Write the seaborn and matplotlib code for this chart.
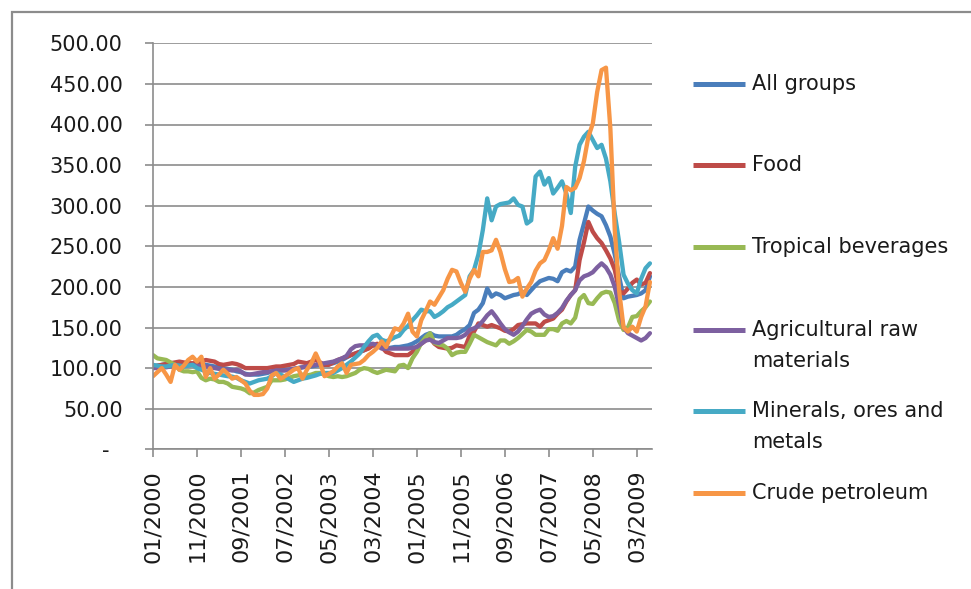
import numpy as np
import pandas as pd
import matplotlib
matplotlib.use("Agg")
import matplotlib.pyplot as plt
import seaborn as sns
from matplotlib.lines import Line2D
from matplotlib.patches import Rectangle

# ---------------- data (monthly index, 01/2000 .. 06/2009) ----------------
series_names = ["All groups", "Food", "Tropical beverages",
                "Agricultural raw materials", "Minerals, ores and metals",
                "Crude petroleum"]
legend_lines = [["All groups"], ["Food"], ["Tropical beverages"],
                ["Agricultural raw", "materials"], ["Minerals, ores and", "metals"],
                ["Crude petroleum"]]
colors = ["#4A7EBB", "#BE4B48", "#98B954", "#7D60A0", "#46AAC5", "#F79646"]

tick_positions = [0, 10, 20, 30, 40, 50, 60, 70, 80, 90, 100, 110]
tick_labels = ["01/2000", "11/2000", "09/2001", "07/2002", "05/2003", "03/2004",
               "01/2005", "11/2005", "09/2006", "07/2007", "05/2008", "03/2009"]

y_ticks = [0, 50, 100, 150, 200, 250, 300, 350, 400, 450, 500]
y_tick_labels = ["-  ", "50.00", "100.00", "150.00", "200.00", "250.00",
                 "300.00", "350.00", "400.00", "450.00", "500.00"]

all_groups = [102, 103, 104, 105, 106, 106, 106, 106, 106, 105,
              105, 104, 104, 103, 102, 101, 100, 99, 98, 96,
              95, 93, 92, 92, 92, 93, 94, 96, 97, 97,
              98, 98, 99, 100, 101, 102, 102, 103, 104, 104,
              105, 106, 108, 110, 113, 116, 118, 120, 122, 125,
              128, 127, 125, 124, 125, 126, 126, 127, 128, 130,
              133, 137, 141, 143, 140, 139, 139, 139, 139, 141,
              145, 148, 153, 168, 172, 180, 198, 188, 192, 190,
              186, 188, 190, 191, 194, 190, 196, 202, 207, 209,
              211, 210, 207, 218, 221, 219, 225, 258, 278, 299,
              294, 290, 287, 276, 262, 240, 213, 186, 188, 189,
              190, 192, 196, 213]

food = [102, 103, 104, 105, 106, 107, 108, 107, 106, 106,
        106, 108, 110, 109, 108, 105, 104, 105, 106, 105,
        103, 100, 100, 100, 100, 100, 100, 101, 102, 102,
        103, 104, 105, 108, 107, 106, 108, 110, 107, 104,
        104, 107, 110, 112, 114, 116, 118, 120, 122, 124,
        128, 130, 126, 120, 118, 116, 116, 116, 116, 120,
        126, 130, 134, 137, 130, 126, 125, 124, 125, 128,
        127, 126, 140, 145, 155, 153, 151, 153, 151, 149,
        146, 145, 148, 153, 154, 155, 155, 155, 151, 157,
        159, 161, 167, 172, 182, 190, 196, 233, 255, 280,
        268, 260, 254, 245, 235, 221, 195, 192, 198, 205,
        209, 203, 205, 217]

tropical = [116, 112, 111, 110, 107, 104, 98, 96, 96, 95,
            96, 88, 85, 87, 86, 83, 83, 81, 77, 76,
            75, 73, 69, 70, 73, 75, 77, 85, 85, 85,
            86, 88, 90, 91, 92, 91, 92, 94, 94, 92,
            90, 89, 90, 89, 90, 92, 94, 98, 100, 99,
            96, 94, 96, 98, 97, 96, 103, 104, 100, 112,
            120, 131, 138, 143, 131, 129, 128, 124, 116, 119,
            120, 120, 130, 141, 138, 135, 132, 130, 128, 134,
            134, 130, 133, 137, 142, 147, 145, 141, 141, 141,
            148, 148, 146, 155, 158, 155, 162, 185, 190, 180,
            179, 186, 192, 194, 193, 180, 158, 147, 150, 163,
            164, 170, 175, 182]

agricultural = [100, 100, 101, 101, 102, 102, 103, 103, 104, 104,
                103, 102, 102, 101, 100, 99, 98, 98, 97, 98,
                96, 92, 92, 93, 94, 95, 95, 96, 97, 97,
                97, 98, 99, 100, 101, 102, 103, 104, 105, 106,
                107, 108, 110, 112, 115, 123, 127, 128, 128, 129,
                130, 128, 124, 124, 124, 124, 124, 124, 124, 125,
                126, 130, 134, 135, 132, 131, 134, 137, 137, 137,
                138, 141, 147, 149, 152, 158, 165, 170, 163, 155,
                148, 144, 141, 145, 152, 160, 167, 170, 172, 166,
                163, 164, 168, 174, 183, 190, 196, 208, 213, 215,
                218, 224, 229, 224, 215, 200, 176, 150, 143, 140,
                137, 134, 137, 143]

minerals = [104, 103, 102, 102, 103, 104, 103, 102, 103, 104,
            100, 98, 96, 94, 93, 92, 91, 90, 89.5, 88,
            85, 83, 81, 83, 85, 86, 87, 90, 94, 92,
            89.5, 86, 83, 85, 87, 88, 89.5, 91, 93, 94,
            94, 94, 97, 100, 104, 108, 113, 118, 126, 133,
            139, 141, 135, 133, 135, 138, 140, 147, 152, 159,
            165, 172, 170, 170, 163, 166, 170, 175, 178, 182,
            186, 190, 213, 221, 240, 270, 309, 282, 299, 302,
            303, 304, 309, 301, 299, 278, 282, 336, 342, 326,
            334, 315, 322, 330, 315, 291, 348, 375, 385, 391,
            381, 371, 375, 358, 330, 290, 255, 215, 204, 196,
            192, 210, 223, 229]

crude = [90, 95, 100, 92, 83, 104, 98, 103, 110, 114,
         108, 114, 89, 100, 87, 92, 98, 93, 87, 89,
         85, 81, 72, 67, 67, 68, 75, 91, 94, 87,
         90, 94, 98, 100, 87, 98, 106, 118, 106, 90,
         93, 96, 102, 106, 94, 104, 105, 106, 110, 116,
         120, 125, 133, 126, 138, 149, 147, 155, 167, 145,
         139, 159, 170, 182, 178, 187, 196, 210, 221, 219,
         205, 194, 210, 221, 213, 243, 243, 245, 258, 243,
         222, 206, 207, 211, 188, 198, 206, 220, 229, 233,
         245, 260, 247, 275, 323, 319, 322, 334, 355, 385,
         401, 440, 467, 470, 395, 270, 195, 150, 145, 151,
         145, 163, 176, 206]

series_values = [all_groups, food, tropical, agricultural, minerals, crude]

frames = []
for name, vals in zip(series_names, series_values):
    frames.append(pd.DataFrame({"month": np.arange(len(vals)),
                                "value": vals, "series": name}))
df = pd.concat(frames, ignore_index=True)

# ---------------- figure ----------------
sns.set_style("white")
plt.rcParams["font.family"] = ["DejaVu Sans"]

W, H = 971, 589
fig = plt.figure(figsize=(W / 100, H / 100), dpi=100)
fig.patch.set_facecolor("white")

# outer chart frame
fig.add_artist(Rectangle((12 / W, -0.05), 1.2, 1 - 12 / H + 0.05,
                         transform=fig.transFigure, fill=False,
                         edgecolor="#8C8C8C", linewidth=1.6))

ax = fig.add_axes([153 / W, 1 - 449.3 / H, (651.7 - 153) / W, (449.3 - 43.3) / H])

sns.lineplot(data=df, x="month", y="value", hue="series",
             hue_order=series_names, palette=colors, linewidth=3.1,
             ax=ax, legend=False, sort=False)

ax.set_xlim(0, 113.4)
ax.set_ylim(0, 500)
ax.set_xlabel("")
ax.set_ylabel("")

ax.set_yticks(y_ticks)
ax.set_yticklabels(y_tick_labels)
ax.set_xticks(tick_positions)
ax.set_xticklabels(tick_labels, rotation=90)

grid_col = "#8C8C8C"
ax.yaxis.grid(True, color=grid_col, linewidth=1.2)
ax.xaxis.grid(False)
ax.set_axisbelow(True)
for s in ["top", "right"]:
    ax.spines[s].set_visible(False)
for s in ["left", "bottom"]:
    ax.spines[s].set_color(grid_col)
    ax.spines[s].set_linewidth(1.2)

ax.tick_params(axis="y", which="major", length=5.8, width=1.2, color=grid_col,
               labelsize=15, pad=16, labelcolor="#1A1A1A", left=True)
ax.tick_params(axis="x", which="major", length=5.8, width=1.2, color=grid_col,
               labelsize=16, pad=9, labelcolor="#1A1A1A", bottom=True)
for lab in ax.get_xticklabels():
    lab.set_va("top")

# ---------------- legend (Excel-style, right side) ----------------
legend_y = [84, 165, 247, 330, 411, 493]
line_gap = 31
for lines, col, yp in zip(legend_lines, colors, legend_y):
    yf = 1 - yp / H
    fig.add_artist(Line2D([693 / W, 745 / W], [yf, yf], transform=fig.transFigure,
                          color=col, linewidth=3.6, solid_capstyle="butt"))
    for k, txt in enumerate(lines):
        fig.text(752 / W, 1 - (yp + k * line_gap) / H, txt, fontsize=15,
                 va="center", ha="left", color="#1A1A1A")

fig.savefig("out.png", dpi=100, facecolor="white")
